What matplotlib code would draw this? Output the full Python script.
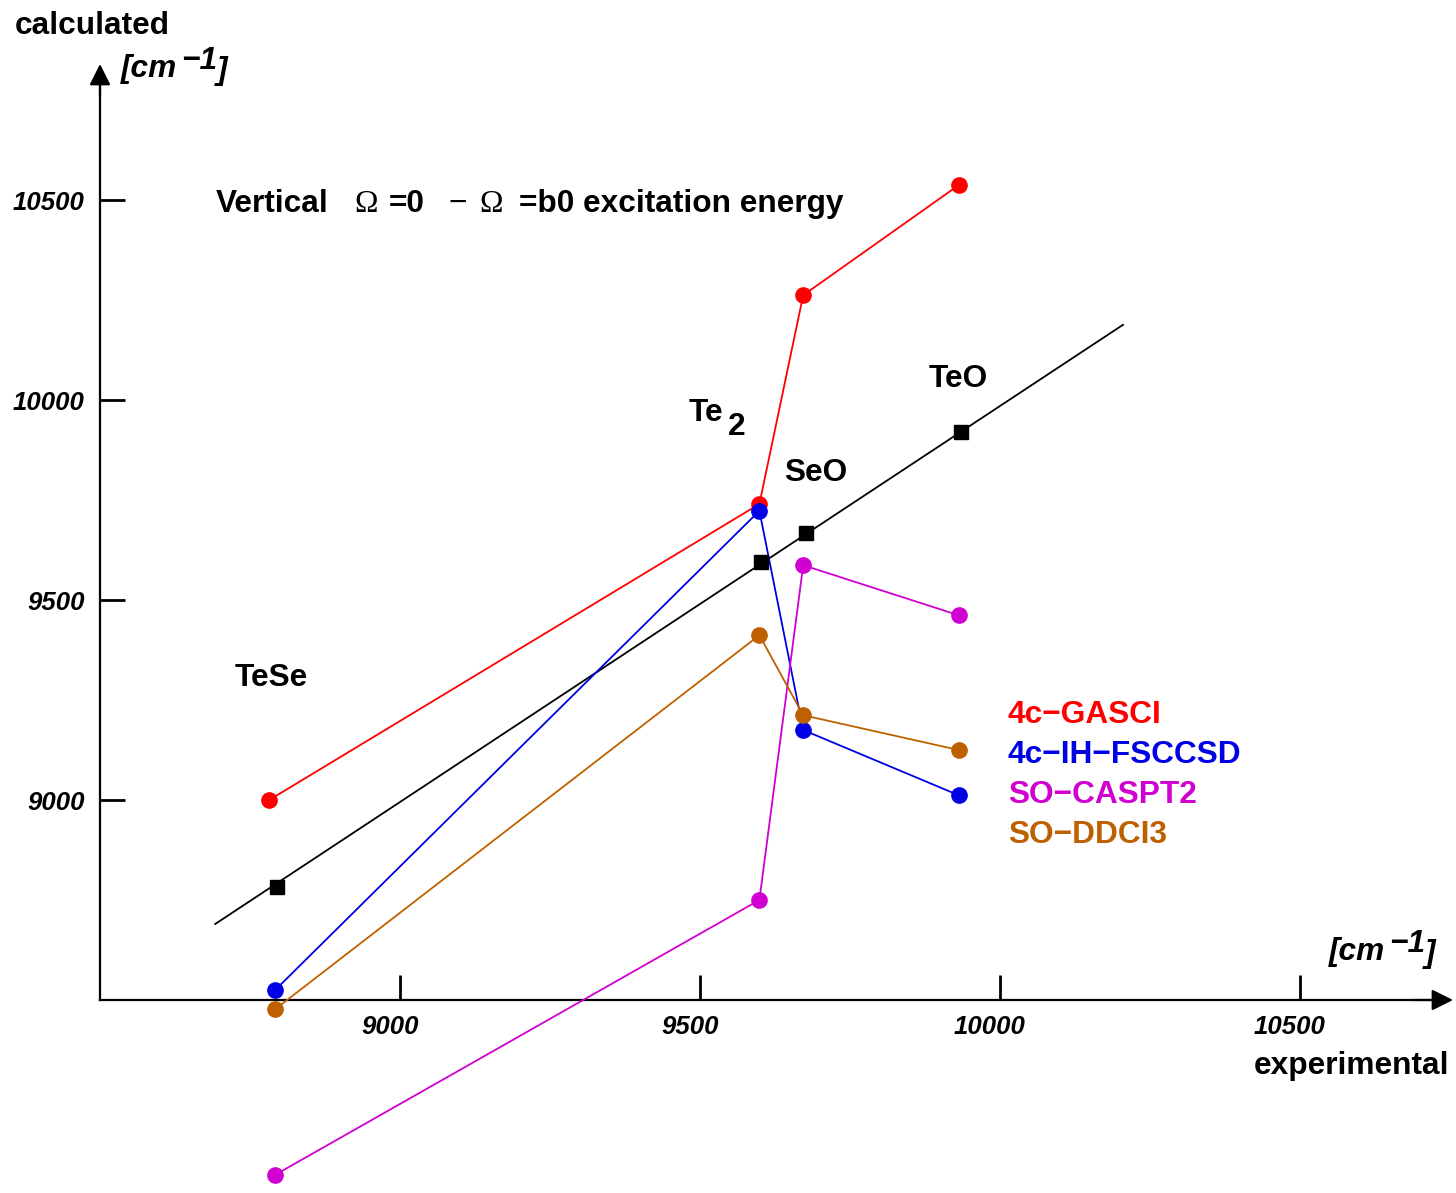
import matplotlib
matplotlib.use('Agg')
import matplotlib.pyplot as plt
from matplotlib.ticker import FixedLocator
from matplotlib.transforms import ScaledTranslation

plt.rcParams['font.family'] = ['Liberation Sans', 'DejaVu Sans']

# experimental values (black squares on the diagonal)
molecules = ['TeSe', 'Te2', 'SeO', 'TeO']
exp_x = [8795, 9602, 9677, 9935]
exp_y = [8783, 9595, 9668, 9920]
diag_x = [8692, 10205]
diag_y = [8690, 10188]

# calculated values per method
method_names = ['4c\u2212GASCI', '4c\u2212IH\u2212FSCCSD', 'SO\u2212CASPT2', 'SO\u2212DDCI3']
method_colors = ['#ff0000', '#0000e6', '#d000d0', '#bf6000']
gasci_x = [8782, 9599, 9672, 9931]
calc_x = [8792, 9599, 9672, 9931]
gasci = [9000, 9740, 10262, 10537]
fsccsd = [8525, 9723, 9175, 9012]
caspt2 = [8063, 8750, 9587, 9462]
ddci3 = [8477, 9412, 9212, 9125]

xticks = [9000, 9500, 10000, 10500]
yticks = [9000, 9500, 10000, 10500]

W, H = 1456, 1193
fig = plt.figure(figsize=(W / 100, H / 100), dpi=100)
ax = fig.add_axes([0, 0, 1, 1])
ax.patch.set_visible(False)
ax.set_xlim(8500 - 100 / 0.6, 8500 + 1356 / 0.6)
ax.set_ylim(8500 - 193 / 0.4, 8500 + 1000 / 0.4)


def px(x, y):
    return x / W, 1 - y / H


# axes with arrows
for s in ['top', 'right']:
    ax.spines[s].set_visible(False)
ax.spines['left'].set_position(('data', 8500))
ax.spines['bottom'].set_position(('data', 8500))
ax.spines['left'].set_bounds(8500, 10790)
ax.spines['bottom'].set_bounds(8500, 10720)
ax.spines['left'].set_linewidth(1.6)
ax.spines['bottom'].set_linewidth(1.6)
ax.annotate('', xy=(8500, 10840), xytext=(8500, 10760),
            arrowprops=dict(arrowstyle='-|>', color='black', lw=1.6, mutation_scale=32,
                            shrinkA=0, shrinkB=0))
ax.annotate('', xy=(10755, 8500), xytext=(10690, 8500),
            arrowprops=dict(arrowstyle='-|>', color='black', lw=1.6, mutation_scale=32,
                            shrinkA=0, shrinkB=0))

ax.xaxis.set_major_locator(FixedLocator(xticks))
ax.yaxis.set_major_locator(FixedLocator(yticks))
ax.set_xticklabels([str(t) for t in xticks], fontweight='bold', fontstyle='italic')
ax.set_yticklabels([str(t) for t in yticks], fontweight='bold', fontstyle='italic')
ax.tick_params(axis='x', direction='in', length=18, width=2, pad=11, labelsize=18.5)
ax.tick_params(axis='y', direction='in', length=18, width=2, pad=11, labelsize=18.5)
shift = ScaledTranslation(-0.10, 0, fig.dpi_scale_trans)
for lbl in ax.get_xticklabels():
    lbl.set_transform(lbl.get_transform() + shift)

# diagonal and experimental points
ax.plot(diag_x, diag_y, color='black', lw=1.3, zorder=2)
ax.plot(exp_x, exp_y, 's', color='black', ms=10.5, zorder=4)

series = [(gasci_x, gasci), (calc_x, fsccsd), (calc_x, caspt2), (calc_x, ddci3)]
for (xs, ys), c in zip(series, method_colors):
    ax.plot(xs, ys, '-o', color=c, lw=1.3, ms=11, zorder=3, clip_on=False)

# labels
fs = 22.8
fig.text(*px(15, 34), 'calculated', fontsize=fs, fontweight='bold', va='baseline')
fig.text(*px(1449, 1074), 'experimental', fontsize=fs, fontweight='bold', va='baseline', ha='right')

for x0, y0 in [(121, 77), (1329, 960)]:
    fig.text(*px(x0, y0), '[cm', fontsize=fs, fontweight='bold', fontstyle='italic', va='baseline')
    fig.text(*px(x0 + 60, y0 - 8), '\u22121', fontsize=fs, fontweight='bold', fontstyle='italic',
             va='baseline')
    fig.text(*px(x0 + 96, y0 + 2), ']', fontsize=fs, fontweight='bold', fontstyle='italic',
             va='baseline')

tb = 212
fig.text(*px(216, tb), 'Vertical', fontsize=fs, fontweight='bold', va='baseline')
fig.text(*px(354, tb), '\u03a9', fontsize=fs, family='Liberation Serif', va='baseline')
fig.text(*px(389, tb), '=0', fontsize=fs, fontweight='bold', va='baseline')
fig.text(*px(448, tb), '\u2212', fontsize=fs, va='baseline')
fig.text(*px(479, tb), '\u03a9', fontsize=fs, family='Liberation Serif', va='baseline')
fig.text(*px(519, tb), '=b0 excitation energy', fontsize=fs, fontweight='bold', va='baseline')

fig.text(*px(235, 686), 'TeSe', fontsize=fs, fontweight='bold', va='baseline')
fig.text(*px(689, 421), 'Te', fontsize=fs, fontweight='bold', va='baseline')
fig.text(*px(728, 435), '2', fontsize=fs, fontweight='bold', va='baseline')
fig.text(*px(784, 481), 'SeO', fontsize=fs, fontweight='bold', va='baseline')
fig.text(*px(929, 387), 'TeO', fontsize=fs, fontweight='bold', va='baseline')

for i, (name, c) in enumerate(zip(method_names, method_colors)):
    fig.text(*px(1008, 723 + 40 * i), name, fontsize=fs, fontweight='bold', color=c,
             va='baseline')

fig.savefig('out.png', dpi=100)
